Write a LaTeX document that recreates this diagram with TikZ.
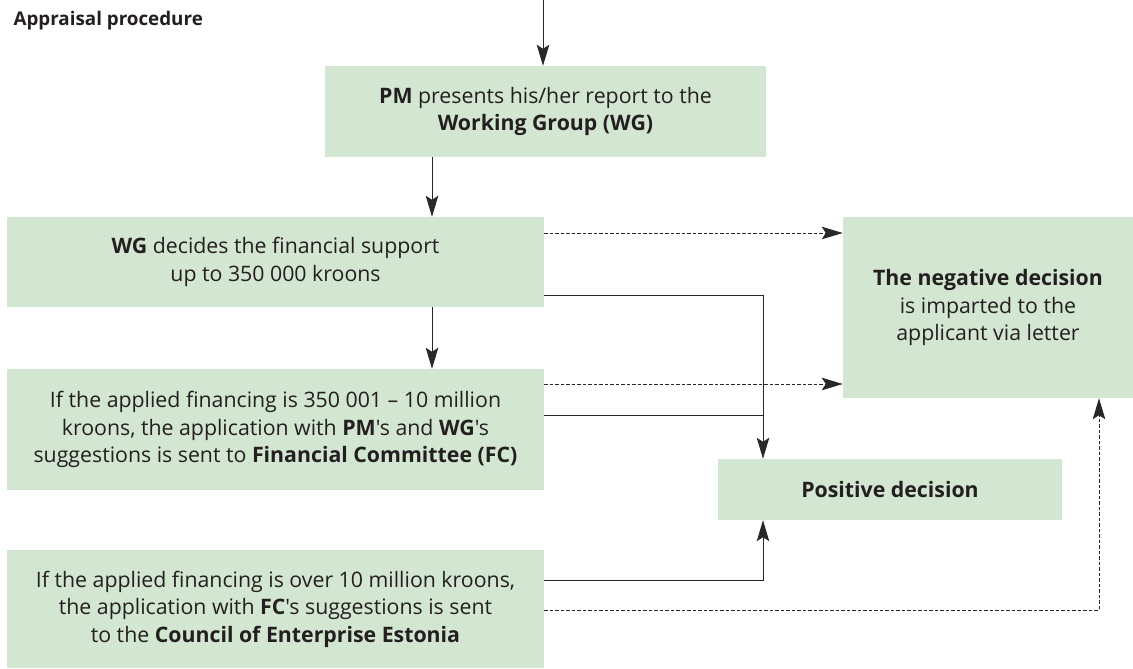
\documentclass[tikz,border=0pt]{standalone}
\usepackage{fontspec}
\setmainfont{Open Sans}[Ligatures=TeXOff]
\usetikzlibrary{arrows.meta,calc}
\definecolor{boxgreen}{RGB}{211,230,209}
\definecolor{txt}{RGB}{35,31,32}
\definecolor{ln}{RGB}{40,40,40}
\begin{document}
\begin{tikzpicture}[x=1pt,y=-1pt,
  box/.style={fill=boxgreen,draw=none,inner sep=0pt,align=center,text=txt,
    font=\fontsize{21.3}{27.5}\selectfont},
  conn/.style={draw=ln,line width=1pt},
  arr/.style={conn,-{Stealth[length=21pt,width=12.5pt,inset=4pt]}},
  darr/.style={conn,dash pattern=on 3.5pt off 2pt,-{Stealth[length=21pt,width=12.5pt,inset=4pt]}}]
\useasboundingbox (0,0) rectangle (1133,669);
\node[anchor=base west,text=txt,font=\fontsize{18.8}{22}\selectfont\bfseries] (title) at (10,26) {Appraisal procedure};
\node[box,minimum width=441pt,minimum height=91pt] (pm) at (545.5,111.5)
  {\textbf{PM} presents his/her report to the\\\textbf{Working Group (WG)}};
\node[box,minimum width=537pt,minimum height=90pt] (wg) at (275.5,262)
  {\textbf{WG} decides the financial support\\up to 350 000 kroons};
\node[box,minimum width=537pt,minimum height=121pt] (fc) at (275.5,429.5)
  {If the applied financing is 350 001 – 10 million\\kroons, the application with \textbf{PM}'s and \textbf{WG}'s\\suggestions is sent to \textbf{Financial Committee (FC)}};
\node[box,minimum width=537pt,minimum height=118pt] (council) at (275.5,609)
  {If the applied financing is over 10 million kroons,\\the application with \textbf{FC}'s suggestions is sent\\to the \textbf{Council of Enterprise Estonia}};
\node[box,minimum width=290pt,minimum height=181pt] (neg) at (988,307.5)
  {\textbf{The negative decision}\\is imparted to the\\applicant via letter};
\node[box,minimum width=344pt,minimum height=61pt] (pos) at (890,489.5)
  {\textbf{Positive decision}};
\coordinate (start) at (543,0);
\coordinate (ax) at (432,0);
\coordinate (jx) at (763,0);
\coordinate (dx) at (1099,0);
\draw[arr] (start) -- (start |- pm.north);
\draw[arr] (ax |- pm.south) -- (ax |- wg.north);
\draw[arr] (ax |- wg.south) -- (ax |- fc.north);
\draw[darr] ([yshift=29pt]wg.east) -- ([yshift=29pt]wg.east -| neg.west);
\draw[arr] ([yshift=-33pt]wg.east) -| (jx |- pos.north);
\draw[darr] ([yshift=45.5pt]fc.east) -- ([yshift=45.5pt]fc.east -| neg.west);
\draw[conn] ([yshift=14.5pt]fc.east) -- ([yshift=14.5pt]fc.east -| jx);
\draw[arr] ([yshift=29pt]council.east) -| (jx |- pos.south);
\draw[darr] ([yshift=-1pt]council.east) -| (dx |- neg.south);
\end{tikzpicture}
\end{document}
